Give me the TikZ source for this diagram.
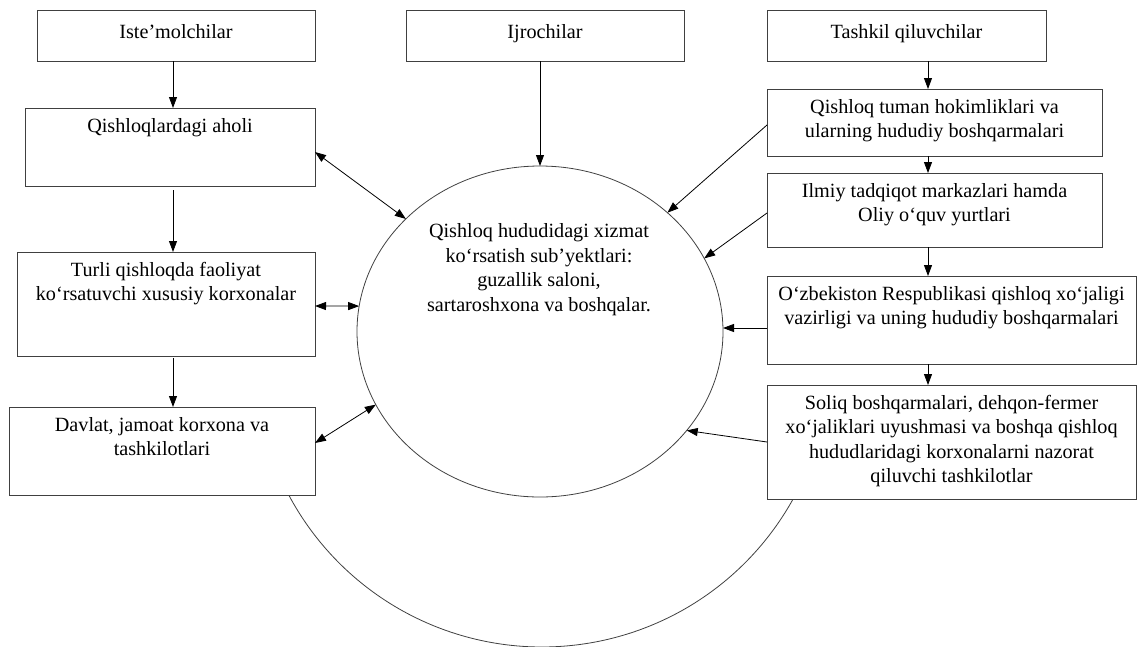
\documentclass[tikz,border=0pt]{standalone}
\usepackage{fontspec}
\setmainfont{Liberation Serif}
\usetikzlibrary{arrows.meta,shapes.geometric}
\begin{document}
\begin{tikzpicture}[x=1pt,y=-1pt,
  box/.style={draw=black!75, line width=0.8pt, fill=white, inner sep=0pt, outer sep=0pt},
  txt/.style={font=\fontsize{20.2}{24.5}\selectfont, align=center, inner sep=0pt, anchor=north},
  arr/.style={-{Triangle[length=11pt,width=8pt]}, line width=0.8pt},
  darr/.style={{Triangle[length=11pt,width=8pt]}-{Triangle[length=11pt,width=8pt]}, line width=0.8pt},
  ring/.style={draw=black!75, line width=0.8pt}]
\useasboundingbox (0,0) rectangle (1137,646);

% big lower arc
\draw[ring] plot[domain=151.94:28.96, samples=120] ({542+287*cos(\x)},{360+287*sin(\x)});

% left column
\node[box, minimum width=278pt, minimum height=51pt]  (ist) at (176,35.5) {};
\node[box, minimum width=290pt, minimum height=78pt]  (aho) at (170,147) {};
\node[box, minimum width=298pt, minimum height=104pt] (tur) at (166,304) {};
\node[box, minimum width=306pt, minimum height=88pt]  (dav) at (162,451) {};
% middle
\node[box, minimum width=278pt, minimum height=51pt]  (ijr) at (545,35.5) {};
\node[ring, ellipse, minimum width=366pt, minimum height=331pt, inner sep=0pt, outer sep=0pt] (el) at (540,331.5) {};
% right column
\node[box, minimum width=279pt, minimum height=51pt]  (tas) at (906.5,35.5) {};
\node[box, minimum width=335pt, minimum height=67pt]  (qt)  at (934.5,122.5) {};
\node[box, minimum width=335pt, minimum height=74pt]  (ilm) at (934.5,210) {};
\node[box, minimum width=369pt, minimum height=88pt]  (uzb) at (951.5,320) {};
\node[box, minimum width=369pt, minimum height=114pt] (sol) at (951.5,442) {};

% texts
\node[txt] (istT) at ([yshift=-14pt]ist.north) {Iste’molchilar};
\node[txt] (ijrT) at ([yshift=-14pt]ijr.north) {Ijrochilar};
\node[txt] (tasT) at ([yshift=-14pt]tas.north) {Tashkil qiluvchilar};
\node[txt] (ahoT) at ([yshift=-10pt]aho.north) {Qishloqlardagi aholi};
\node[txt] (turT) at ([yshift=-10pt]tur.north) {Turli qishloqda faoliyat\\ko‘rsatuvchi xususiy korxonalar};
\node[txt] (davT) at ([yshift=-10pt]dav.north) {Davlat, jamoat korxona va\\tashkilotlari};
\node[txt] (qtT)  at ([yshift=-10pt]qt.north)  {Qishloq tuman hokimliklari va\\ularning hududiy boshqarmalari};
\node[txt] (ilmT) at ([yshift=-10pt]ilm.north) {Ilmiy tadqiqot markazlari hamda\\Oliy o‘quv yurtlari};
\node[txt] (uzbT) at ([yshift=-10pt]uzb.north) {O‘zbekiston Respublikasi qishloq xo‘jaligi\\vazirligi va uning hududiy boshqarmalari};
\node[txt] (solT) at ([yshift=-10pt]sol.north) {Soliq boshqarmalari, dehqon-fermer\\xo‘jaliklari uyushmasi va boshqa qishloq\\hududlaridagi korxonalarni nazorat\\qiluvchi tashkilotlar};
\node[txt] (elT)  at (539,223.5) {Qishloq hududidagi xizmat\\ko‘rsatish sub’yektlari:\\guzallik saloni,\\sartaroshxona va boshqalar.};

% vertical guides
\coordinate (v1) at (173,0);
\coordinate (v3) at (928,0);

% vertical arrows
\draw[arr] (ist.south -| v1) -- (aho.north -| v1);
\draw[arr] ([yshift=-4pt]aho.south -| v1) -- (tur.north -| v1);
\draw[arr] ([yshift=-2pt]tur.south -| v1) -- (dav.north -| v1);
\draw[arr] (ijr.south -| el.north) -- (el.north);
\draw[arr] (tas.south -| v3) -- (qt.north -| v3);
\draw[arr] (qt.south -| v3) -- (ilm.north -| v3);
\draw[arr] (ilm.south -| v3) -- (uzb.north -| v3);
\draw[arr] (uzb.south -| v3) -- (sol.north -| v3);

% links to the ellipse
\draw[darr] ([yshift=-5pt]aho.east) -- (el.140);
\draw[darr] ([yshift=-2pt]tur.east) -- (el.172);
\draw[darr] ([yshift=8pt]dav.east) -- (el.204);
\draw[arr] ([yshift=-2.5pt]qt.west) -- (el.43);
\draw[arr] ([yshift=-3pt]ilm.west) -- (el.24);
\draw[arr] ([yshift=-8pt]uzb.west) -- ([yshift=-8pt]uzb.west -| el.east);
\draw[arr] (sol.west) -- (el.-34);
\end{tikzpicture}
\end{document}
